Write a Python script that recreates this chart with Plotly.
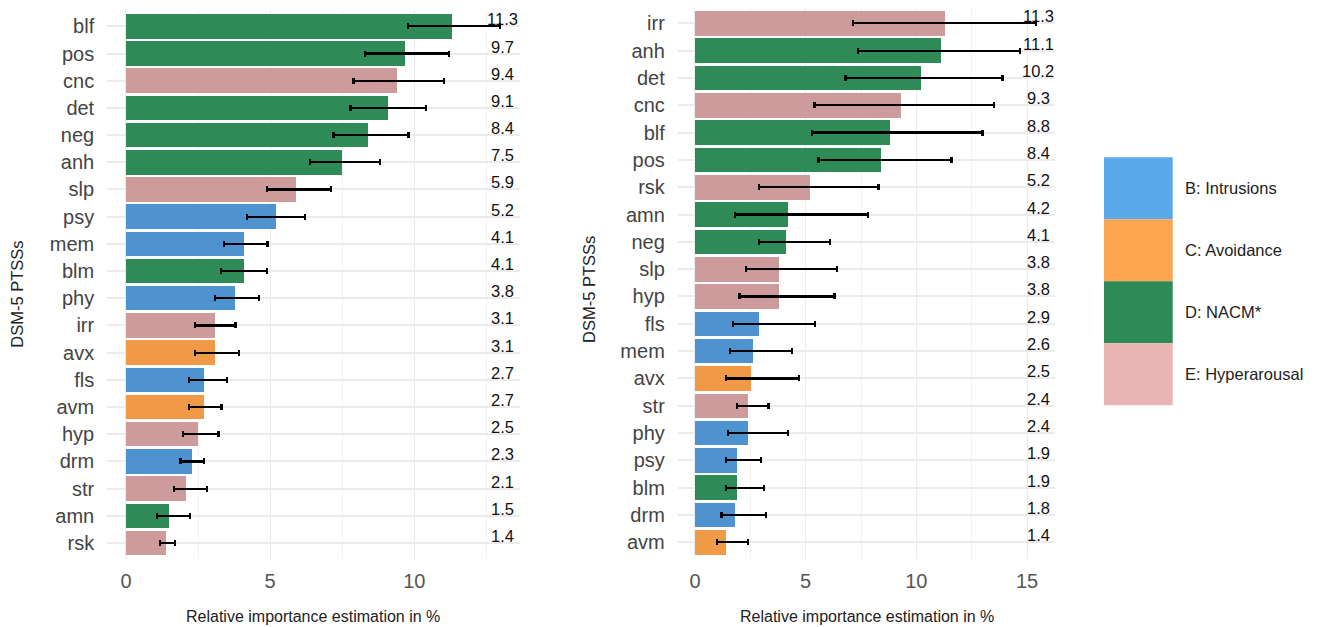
import plotly.graph_objects as go

# ---------------- data ----------------
left_sym = ["blf", "pos", "cnc", "det", "neg", "anh", "slp", "psy", "mem", "blm",
            "phy", "irr", "avx", "fls", "avm", "hyp", "drm", "str", "amn", "rsk"]
left_val = [11.3, 9.7, 9.4, 9.1, 8.4, 7.5, 5.9, 5.2, 4.1, 4.1,
            3.8, 3.1, 3.1, 2.7, 2.7, 2.5, 2.3, 2.1, 1.5, 1.4]
left_lo = [9.78, 8.29, 7.89, 7.79, 7.2, 6.38, 4.89, 4.19, 3.40, 3.29,
           3.08, 2.39, 2.39, 2.18, 2.18, 1.99, 1.89, 1.67, 1.09, 1.18]
left_hi = [12.98, 11.2, 11.02, 10.40, 9.8, 8.81, 7.12, 6.20, 4.91, 4.90,
           4.62, 3.80, 3.92, 3.50, 3.31, 3.21, 2.72, 2.82, 2.22, 1.71]
left_grp = ["D", "D", "E", "D", "D", "D", "E", "B", "B", "D",
            "B", "E", "C", "B", "C", "E", "B", "E", "D", "E"]

right_sym = ["irr", "anh", "det", "cnc", "blf", "pos", "rsk", "amn", "neg", "slp",
             "hyp", "fls", "mem", "avx", "str", "phy", "psy", "blm", "drm", "avm"]
right_val = [11.3, 11.1, 10.2, 9.3, 8.8, 8.4, 5.2, 4.2, 4.1, 3.8,
             3.8, 2.9, 2.6, 2.5, 2.4, 2.4, 1.9, 1.9, 1.8, 1.4]
right_lo = [7.13, 7.38, 6.80, 5.40, 5.30, 5.58, 2.90, 1.81, 2.90, 2.31,
            2.01, 1.71, 1.60, 1.39, 1.89, 1.48, 1.39, 1.39, 1.20, 0.99]
right_hi = [15.39, 14.69, 13.89, 13.49, 12.99, 11.59, 8.29, 7.81, 6.11, 6.41,
            6.30, 5.42, 4.40, 4.70, 3.32, 4.21, 2.99, 3.10, 3.20, 2.41]
right_grp = ["E", "D", "D", "E", "D", "D", "E", "D", "D", "E",
             "E", "B", "B", "C", "E", "B", "B", "D", "B", "C"]

groups = ["B", "C", "D", "E"]
group_labels = ["B: Intrusions", "C: Avoidance", "D: NACM*", "E: Hyperarousal"]
bar_colors = {"B": "#4E93CF", "C": "#F09A48", "D": "#2E8B57", "E": "#CD9B9B"}
legend_colors = {"B": "#5AAAEB", "C": "#FBA550", "D": "#2E8B57", "E": "#EBB4B4"}

x_title = "Relative importance estimation in %"
y_title = "DSM-5 PTSSs"

W, H = 1320, 627
FONT = "Liberation Sans, Arial, sans-serif"

fig = go.Figure()


def add_panel(sym, val, lo, hi, grp, xa, ya, label_x):
    fig.add_trace(go.Bar(
        x=val, y=sym, orientation="h", width=0.9,
        marker=dict(color=[bar_colors[g] for g in grp], line=dict(width=0)),
        error_x=dict(type="data", symmetric=False,
                     array=[h - v for h, v in zip(hi, val)],
                     arrayminus=[v - l for v, l in zip(val, lo)],
                     color="black", thickness=2.2, width=3),
        xaxis=xa, yaxis=ya, showlegend=False, hoverinfo="skip"))
    for s, v in zip(sym, val):
        fig.add_annotation(x=label_x, y=s, xref=xa, yref=ya, text=f"{v:.1f}",
                           showarrow=False, yshift=7,
                           font=dict(family=FONT, size=16.5, color="#111111"))


add_panel(left_sym, left_val, left_lo, left_hi, left_grp, "x", "y", 13.05)
add_panel(right_sym, right_val, right_lo, right_hi, right_grp, "x2", "y2", 15.5)

grid = "#EBEBEB"


def xaxis_cfg(domain, rng, ticks):
    return dict(domain=domain, range=rng, tickmode="array", tickvals=ticks,
                ticktext=[str(t) for t in ticks],
                showgrid=True, gridcolor=grid, gridwidth=1.3,
                minor=dict(dtick=2.5, tick0=0, showgrid=True, gridcolor="#F2F2F2", gridwidth=1),
                zeroline=False, showline=False, ticks="",
                ticklabelstandoff=8,
                tickfont=dict(family=FONT, size=20, color="#555555"))


def yaxis_cfg(domain, cats, anchor):
    return dict(domain=domain, type="category", categoryorder="array",
                categoryarray=cats, range=[19.6, -0.6], anchor=anchor,
                showgrid=True, gridcolor=grid, gridwidth=2.2,
                zeroline=False, showline=False, ticks="",
                ticklabelstandoff=12,
                tickfont=dict(family=FONT, size=20, color="#444444"))


L0, L1 = 107.2 / W, 519.6 / W
R0, R1 = 677.8 / W, 1055.3 / W
fig.update_layout(
    width=W, height=H, margin=dict(l=0, r=0, t=0, b=0),
    paper_bgcolor="white", plot_bgcolor="white",
    bargap=0,
    xaxis=xaxis_cfg([L0, L1], [-0.65, 13.65], [0, 5, 10]),
    yaxis=yaxis_cfg([1 - 559.3 / H, 1 - 10 / H], left_sym, "x"),
    xaxis2=dict(**xaxis_cfg([R0, R1], [-0.775, 16.275], [0, 5, 10, 15]), anchor="y2"),
    yaxis2=yaxis_cfg([1 - 558.7 / H, 1 - 6.9 / H], right_sym, "x2"),
)

# axis titles
for cx in [(L0 + L1) / 2, (R0 + R1) / 2]:
    fig.add_annotation(x=cx, y=1 - 616 / H, xref="paper", yref="paper",
                       text=x_title, showarrow=False, xanchor="center", yanchor="middle",
                       font=dict(family=FONT, size=16, color="#222222"))
for px, py in [(16.7, 294), (589, 290)]:
    fig.add_annotation(x=px / W, y=1 - py / H, xref="paper", yref="paper",
                       text=y_title, showarrow=False, textangle=-90,
                       xanchor="center", yanchor="middle",
                       font=dict(family=FONT, size=16.5, color="#222222"))

# legend (color key)
top, step = 157.3, 62.0
for i, (g, lab) in enumerate(zip(groups, group_labels)):
    y0 = top + i * step
    fig.add_shape(type="rect", xref="paper", yref="paper",
                  x0=1104 / W, x1=1172.7 / W, y0=1 - (y0 + step) / H, y1=1 - y0 / H,
                  fillcolor=legend_colors[g], line=dict(width=0), layer="above")
    fig.add_annotation(x=1183 / W, y=1 - (y0 + step / 2) / H, xref="paper", yref="paper",
                       text=lab, showarrow=False, xanchor="left", yanchor="middle",
                       font=dict(family=FONT, size=16.5, color="#222222"))

fig.write_html("out.html", config={"displayModeBar": False},
               post_script="document.body.style.margin='0';document.body.style.overflow='hidden';")
